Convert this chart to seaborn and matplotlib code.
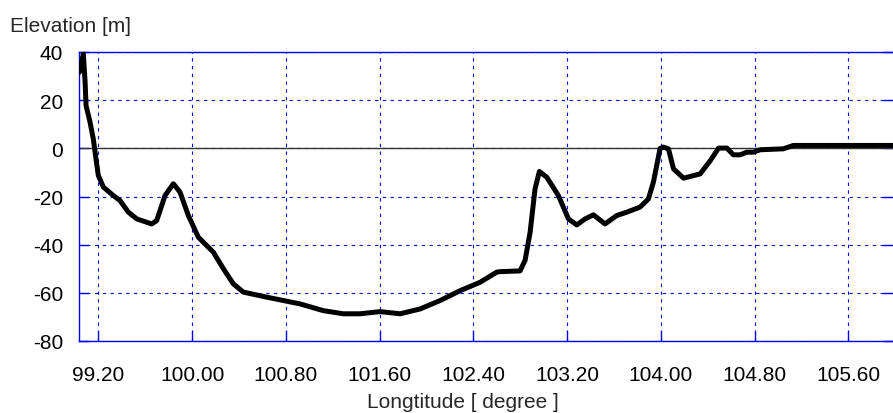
import matplotlib
matplotlib.use("Agg")
import matplotlib.pyplot as plt
import seaborn as sns
import pandas as pd
from matplotlib.ticker import FormatStrFormatter, FixedLocator

longitude = [99.038, 99.072, 99.087, 99.095, 99.129, 99.157, 99.180, 99.200, 99.243,
             99.328, 99.385, 99.456, 99.528, 99.656, 99.698, 99.769, 99.840, 99.897,
             99.968, 100.053, 100.125, 100.181, 100.267, 100.352, 100.437, 100.637,
             100.921, 101.120, 101.290, 101.433, 101.604, 101.775, 101.945, 102.116,
             102.287, 102.458, 102.599, 102.628, 102.798, 102.841, 102.884, 102.926,
             102.963, 103.026, 103.125, 103.211, 103.282, 103.353, 103.424, 103.523,
             103.623, 103.709, 103.822, 103.893, 103.936, 103.993, 104.021, 104.064,
             104.107, 104.193, 104.335, 104.421, 104.492, 104.563, 104.618, 104.675,
             104.732, 104.789, 104.846, 105.045, 105.130, 105.980]
elevation = [31.6, 39.2, 27.5, 17.8, 10.9, 3.9, -4.4, -11.3, -16.1,
             -19.6, -21.7, -26.5, -29.3, -31.4, -30.0, -19.6, -14.7, -18.2,
             -27.9, -36.9, -40.4, -43.1, -50.0, -56.3, -59.7, -61.8,
             -64.6, -67.4, -68.7, -68.7, -67.8, -68.7, -66.7, -63.2,
             -59.1, -55.6, -51.4, -51.2, -50.9, -46.5, -34.8, -16.8,
             -9.6, -12.0, -19.6, -29.3, -31.8, -29.3, -27.6, -31.4,
             -27.9, -26.5, -24.4, -21.0, -14.0, 0.0, 0.5, -0.2,
             -8.5, -12.4, -10.6, -5.1, 0.1, 0.1, -2.7, -2.7,
             -1.6, -1.6, -0.6, -0.2, 1.2, 1.2]

x_ticks = [99.2, 100.0, 100.8, 101.6, 102.4, 103.2, 104.0, 104.8, 105.6]
y_ticks = [-80, -60, -40, -20, 0, 20, 40]

df = pd.DataFrame({"Longitude": longitude, "Elevation": elevation})

sns.set_style("white")
plt.rcParams["font.family"] = ["Liberation Sans", "DejaVu Sans"]

fig = plt.figure(figsize=(8.93, 4.14), dpi=100)
ax = fig.add_axes([79 / 893, 1 - 342 / 414, 1 - 79 / 893, (342 - 53) / 414])

blue = "#0000ff"
ax.grid(True, color=blue, linestyle=(0, (3, 4)), linewidth=0.8)
ax.axhline(0, color="#333333", linewidth=1.0, zorder=2)

sns.lineplot(data=df, x="Longitude", y="Elevation", sort=False, ax=ax,
             color="black", linewidth=3.6, zorder=3,
             solid_joinstyle="round", solid_capstyle="round")

ax.set_xlim(99.035, 105.98)
ax.set_ylim(-80, 40)
ax.xaxis.set_major_locator(FixedLocator(x_ticks))
ax.yaxis.set_major_locator(FixedLocator(y_ticks))
ax.xaxis.set_major_formatter(FormatStrFormatter("%.2f"))
ax.yaxis.set_major_formatter(FormatStrFormatter("%d"))

for side in ["left", "bottom", "top"]:
    ax.spines[side].set_color(blue)
    ax.spines[side].set_linewidth(1.0)
ax.spines["right"].set_visible(False)

ax.tick_params(axis="both", direction="in", length=7, color=blue, width=1,
               labelsize=15, labelcolor="black")
ax.tick_params(axis="y", right=True, left=True, pad=11.5)
ax.tick_params(axis="x", bottom=True, pad=17)

ax.set_xlabel("")
ax.set_ylabel("")
fig.text(462.5 / 893, 1 - 408 / 414, "Longtitude [ degree ]", fontsize=15,
         ha="center", va="baseline")
fig.text(10 / 893, 1 - 32 / 414, "Elevation [m]", fontsize=15,
         ha="left", va="baseline")

fig.savefig("out.png", dpi=100)
